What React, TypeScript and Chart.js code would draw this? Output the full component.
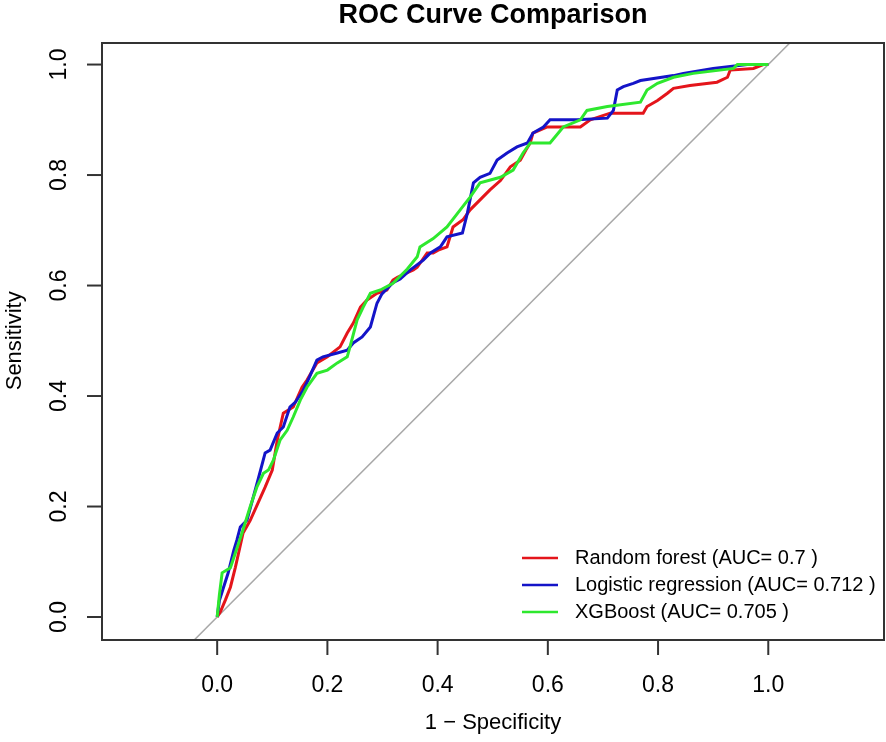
import { useEffect, useRef } from "react"
import { Chart, registerables } from "chart.js"

Chart.register(...registerables)

// ROC points (x = 1 - specificity, y = sensitivity)
const RF_FPR = [0, 0.006, 0.015, 0.024, 0.033, 0.047, 0.06, 0.074, 0.087, 0.1, 0.109, 0.12, 0.138, 0.154, 0.163, 0.181, 0.2, 0.223, 0.236, 0.247, 0.26, 0.272, 0.29, 0.308, 0.319, 0.327, 0.356, 0.363, 0.381, 0.392, 0.401, 0.417, 0.428, 0.446, 0.459, 0.477, 0.495, 0.514, 0.532, 0.55, 0.56, 0.568, 0.573, 0.599, 0.659, 0.677, 0.713, 0.773, 0.78, 0.799, 0.817, 0.828, 0.858, 0.907, 0.926, 0.931, 0.973, 0.991, 1]
const RF_TPR = [0, 0.01, 0.031, 0.054, 0.09, 0.152, 0.175, 0.206, 0.235, 0.266, 0.32, 0.369, 0.38, 0.416, 0.429, 0.46, 0.471, 0.489, 0.514, 0.532, 0.561, 0.574, 0.586, 0.592, 0.61, 0.615, 0.628, 0.633, 0.659, 0.659, 0.664, 0.67, 0.706, 0.719, 0.737, 0.755, 0.773, 0.79, 0.815, 0.827, 0.845, 0.858, 0.876, 0.887, 0.887, 0.9, 0.912, 0.912, 0.924, 0.935, 0.948, 0.957, 0.962, 0.968, 0.977, 0.99, 0.993, 1, 1]

const LR_FPR = [0, 0.004, 0.01, 0.02, 0.03, 0.036, 0.042, 0.054, 0.074, 0.087, 0.096, 0.109, 0.12, 0.132, 0.142, 0.156, 0.165, 0.181, 0.192, 0.218, 0.236, 0.247, 0.263, 0.278, 0.29, 0.299, 0.319, 0.332, 0.35, 0.374, 0.387, 0.405, 0.417, 0.445, 0.454, 0.465, 0.477, 0.495, 0.508, 0.526, 0.544, 0.563, 0.573, 0.592, 0.604, 0.653, 0.708, 0.719, 0.726, 0.737, 0.755, 0.768, 0.828, 0.846, 0.9, 0.962, 1]
const LR_TPR = [0, 0.03, 0.049, 0.08, 0.12, 0.14, 0.163, 0.175, 0.248, 0.297, 0.302, 0.333, 0.344, 0.38, 0.389, 0.41, 0.429, 0.465, 0.471, 0.478, 0.483, 0.496, 0.507, 0.525, 0.568, 0.585, 0.605, 0.612, 0.628, 0.646, 0.659, 0.67, 0.688, 0.695, 0.731, 0.786, 0.796, 0.803, 0.827, 0.84, 0.851, 0.858, 0.876, 0.887, 0.9, 0.9, 0.903, 0.917, 0.954, 0.96, 0.966, 0.971, 0.98, 0.984, 0.993, 1, 1]

const XGB_FPR = [0, 0.004, 0.009, 0.024, 0.033, 0.045, 0.06, 0.072, 0.084, 0.093, 0.102, 0.114, 0.127, 0.138, 0.151, 0.163, 0.181, 0.2, 0.218, 0.236, 0.241, 0.254, 0.265, 0.278, 0.296, 0.319, 0.345, 0.363, 0.368, 0.392, 0.417, 0.441, 0.459, 0.477, 0.514, 0.537, 0.555, 0.568, 0.604, 0.628, 0.659, 0.671, 0.708, 0.768, 0.78, 0.799, 0.828, 0.864, 0.937, 0.944, 1]
const XGB_TPR = [0, 0.04, 0.08, 0.089, 0.116, 0.152, 0.2, 0.235, 0.26, 0.266, 0.284, 0.32, 0.338, 0.362, 0.393, 0.416, 0.441, 0.447, 0.46, 0.471, 0.489, 0.538, 0.561, 0.586, 0.592, 0.604, 0.63, 0.652, 0.67, 0.685, 0.706, 0.737, 0.76, 0.786, 0.796, 0.809, 0.84, 0.858, 0.858, 0.887, 0.9, 0.917, 0.924, 0.932, 0.954, 0.966, 0.977, 0.984, 0.993, 1, 1]

const CHANCE = [-1, 2]
const X_TICKS = [0, 0.2, 0.4, 0.6, 0.8, 1.0]
const Y_TICKS = [0, 0.2, 0.4, 0.6, 0.8, 1.0]

const SERIES = [
  { label: "Random forest (AUC= 0.7 )",       color: "#e4151b", fpr: RF_FPR,  tpr: RF_TPR,  order: 3 },
  { label: "Logistic regression (AUC= 0.712 )", color: "#1414c8", fpr: LR_FPR,  tpr: LR_TPR,  order: 2 },
  { label: "XGBoost (AUC= 0.705 )",           color: "#2ee82e", fpr: XGB_FPR, tpr: XGB_TPR, order: 1 },
]

const FONT = "'Liberation Sans', Arial, Helvetica, sans-serif"

const frame = {
  id: "rFrame",
  afterDraw(chart: Chart) {
    const { ctx, chartArea: a } = chart
    const x = chart.scales.x
    const y = chart.scales.y
    ctx.save()

    ctx.strokeStyle = "#333"
    ctx.lineWidth = 2
    ctx.strokeRect(a.left, a.top, a.right - a.left, a.bottom - a.top)

    ctx.fillStyle = "#000"
    ctx.font = `23px ${FONT}`
    ctx.textAlign = "center"
    ctx.textBaseline = "middle"
    X_TICKS.forEach(v => {
      const px = x.getPixelForValue(v)
      ctx.beginPath()
      ctx.moveTo(px, a.bottom)
      ctx.lineTo(px, a.bottom + 15)
      ctx.stroke()
      ctx.fillText(v.toFixed(1), px, a.bottom + 46)
    })
    Y_TICKS.forEach(v => {
      const py = y.getPixelForValue(v)
      ctx.beginPath()
      ctx.moveTo(a.left, py)
      ctx.lineTo(a.left - 15, py)
      ctx.stroke()
      ctx.save()
      ctx.translate(a.left - 42, py)
      ctx.rotate(-Math.PI / 2)
      ctx.fillText(v.toFixed(1), 0, 0)
      ctx.restore()
    })

    const cx = (a.left + a.right) / 2
    ctx.font = `22px ${FONT}`
    ctx.fillText("1 \u2212 Specificity", cx, a.bottom + 83)
    ctx.save()
    ctx.translate(a.left - 87, (y.getPixelForValue(0) + y.getPixelForValue(1)) / 2)
    ctx.rotate(-Math.PI / 2)
    ctx.fillText("Sensitivity", 0, 0)
    ctx.restore()

    ctx.font = `bold 27px ${FONT}`
    ctx.fillText("ROC Curve Comparison", cx, 16)

    ctx.font = `20px ${FONT}`
    ctx.textAlign = "left"
    SERIES.forEach((s, i) => {
      const ly = a.bottom - 82 + i * 27
      ctx.strokeStyle = s.color
      ctx.lineWidth = 2.5
      ctx.beginPath()
      ctx.moveTo(a.right - 362, ly)
      ctx.lineTo(a.right - 326, ly)
      ctx.stroke()
      ctx.fillText(s.label, a.right - 309, ly)
    })

    ctx.restore()
  },
}

export default function App() {
  const canvasRef = useRef<HTMLCanvasElement>(null)
  const chartRef = useRef<Chart | null>(null)

  useEffect(() => {
    document.body.style.margin = "0"
    if (!canvasRef.current) return
    chartRef.current?.destroy()

    chartRef.current = new Chart(canvasRef.current, {
      type: "line",
      data: {
        datasets: [
          ...SERIES.map(s => ({
            label: s.label,
            data: s.fpr.map((v, i) => ({ x: v, y: s.tpr[i] })),
            borderColor: s.color,
            borderWidth: 3,
            pointRadius: 0,
            tension: 0,
            fill: false,
            order: s.order,
          })),
          {
            label: "chance",
            data: CHANCE.map(v => ({ x: v, y: v })),
            borderColor: "#a8a8a8",
            borderWidth: 1.5,
            pointRadius: 0,
            fill: false,
            order: 4,
            clip: 0,
          },
        ],
      },
      options: {
        responsive: false,
        animation: false,
        layout: { padding: { left: 102, right: 2, top: 43, bottom: 102 } },
        scales: {
          x: { type: "linear", min: -0.209, max: 1.21, display: false },
          y: { type: "linear", min: -0.0416, max: 1.039, display: false },
        },
        plugins: { legend: { display: false }, tooltip: { enabled: false }, title: { display: false } },
      },
      plugins: [frame],
    })

    return () => { chartRef.current?.destroy() }
  }, [])

  return (
    <div style={{ width: 886, height: 742, background: "#fff" }}>
      <canvas ref={canvasRef} width={886} height={742} style={{ width: 886, height: 742 }} />
    </div>
  )
}
